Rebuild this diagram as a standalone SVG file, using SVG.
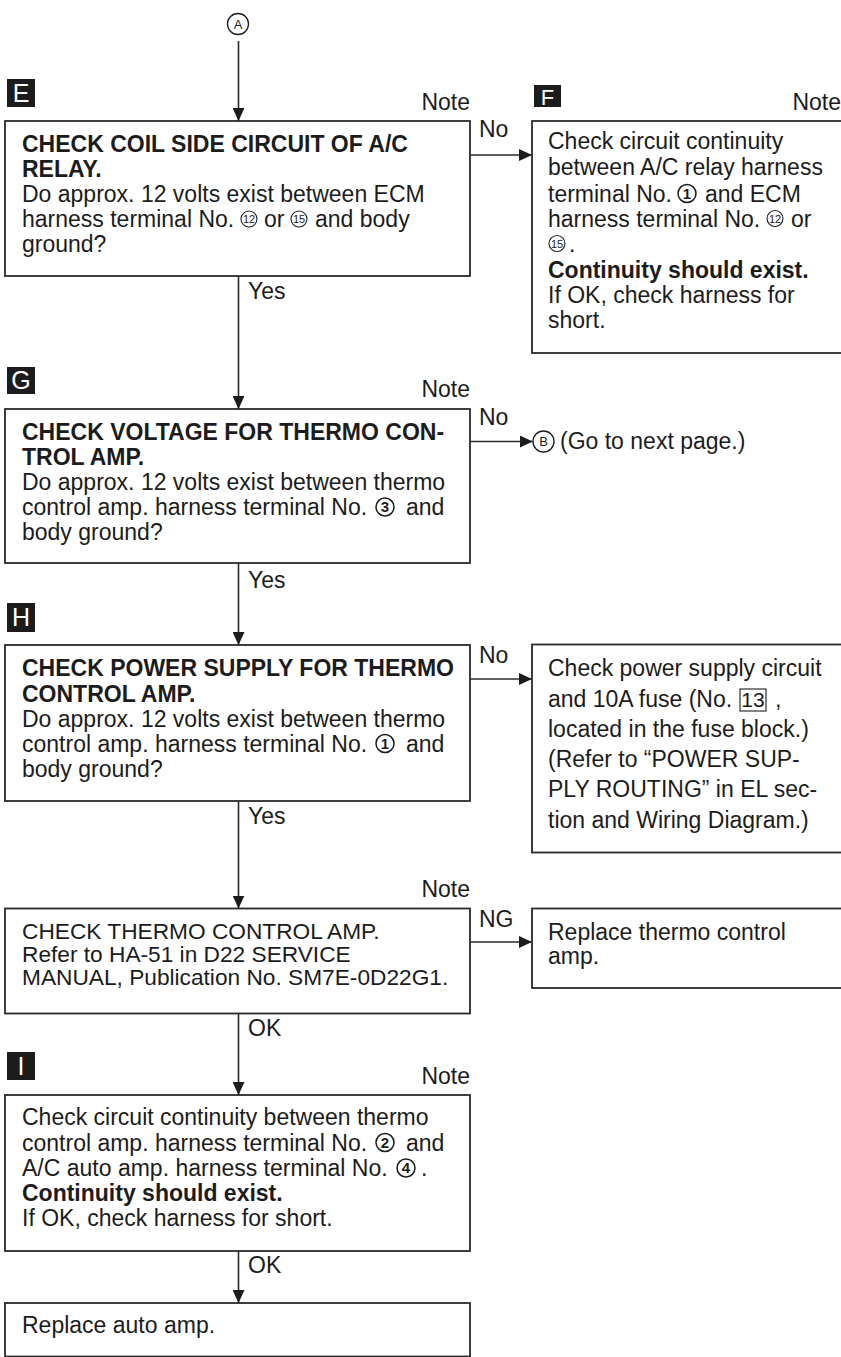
<svg xmlns="http://www.w3.org/2000/svg" width="841" height="1357" viewBox="0 0 841 1357">
<style>
.t{font-family:"Liberation Sans",Arial,sans-serif;font-size:23px;fill:#1c1c1c}
.s{font-size:22.7px}
.b{font-weight:bold}
.box{fill:#fff;stroke:#2a2a2a;stroke-width:1.8}
.ln{fill:none;stroke:#2a2a2a;stroke-width:1.6}
.lab{fill:#1c1c1c}
.labt{font-family:"Liberation Sans",Arial,sans-serif;font-size:25px;fill:#fff;text-anchor:middle}
.c1{fill:none;stroke:#1c1c1c;stroke-width:1.5}
.c2{fill:none;stroke:#1c1c1c;stroke-width:1.1}
.d1{font-family:"Liberation Sans",Arial,sans-serif;font-size:15px;font-weight:bold;fill:#1c1c1c;text-anchor:middle}
.d2{font-family:"Liberation Sans",Arial,sans-serif;font-size:11px;fill:#1c1c1c;text-anchor:middle}
.dl{font-family:"Liberation Sans",Arial,sans-serif;font-size:13px;fill:#1c1c1c;text-anchor:middle}
.end{text-anchor:end}
</style>
<defs>
<marker id="ah" markerUnits="userSpaceOnUse" markerWidth="14" markerHeight="12" refX="13" refY="6" orient="auto">
<path d="M0,0 L13,6 L0,12 Z" fill="#1c1c1c"/>
</marker>
</defs>

<g id="connectors">
<path class="ln" d="M238.5,41 V121" marker-end="url(#ah)"/>
<path class="ln" d="M238.5,276 V409" marker-end="url(#ah)"/>
<path class="ln" d="M238.5,563 V645" marker-end="url(#ah)"/>
<path class="ln" d="M238.5,801 V908.5" marker-end="url(#ah)"/>
<path class="ln" d="M238.5,1013.5 V1095" marker-end="url(#ah)"/>
<path class="ln" d="M238.5,1251 V1303" marker-end="url(#ah)"/>
<path class="ln" d="M470,155 H532" marker-end="url(#ah)"/>
<path class="ln" d="M470,441.5 H532.8" marker-end="url(#ah)"/>
<path class="ln" d="M470,679 H532" marker-end="url(#ah)"/>
<path class="ln" d="M470,942 H532" marker-end="url(#ah)"/>
<text class="t" x="248" y="299">Yes</text>
<text class="t" x="248" y="588">Yes</text>
<text class="t" x="248" y="824">Yes</text>
<text class="t" x="248" y="1036">OK</text>
<text class="t" x="248" y="1273">OK</text>
<text class="t" x="479" y="137">No</text>
<text class="t" x="479" y="425">No</text>
<text class="t" x="479" y="663">No</text>
<text class="t" x="479" y="927">NG</text>
</g>

<g id="connA">
<circle class="c1" cx="238" cy="24" r="10.5" style="stroke-width:1.3"/>
<text class="dl" x="238" y="28.7">A</text>
</g>

<g id="nodeE">
<rect class="lab" x="7" y="79" width="28" height="28"/>
<text class="labt" x="21" y="102">E</text>
<text class="t end" x="470" y="110">Note</text>
<rect class="box" x="5" y="121" width="465" height="155"/>
<text class="t b" x="22" y="152">CHECK COIL SIDE CIRCUIT OF A/C</text>
<text class="t b" x="22" y="177">RELAY.</text>
<text class="t" x="22" y="202">Do approx. 12 volts exist between ECM</text>
<text class="t" x="22" y="227">harness terminal No.</text>
<circle class="c2" cx="249" cy="219" r="8"/><text class="d2" x="249" y="223">12</text>
<text class="t" x="264" y="227">or</text>
<circle class="c2" cx="299" cy="219" r="8"/><text class="d2" x="299" y="223">15</text>
<text class="t" x="315" y="227">and body</text>
<text class="t" x="22" y="252">ground?</text>
</g>

<g id="nodeF">
<rect class="lab" x="534" y="85" width="27" height="22"/>
<text class="labt" x="547.5" y="104.5" style="font-size:22px">F</text>
<text class="t end" x="841" y="110">Note</text>
<rect class="box" x="532" y="121" width="320" height="232"/>
<text class="t" x="548" y="148.5">Check circuit continuity</text>
<text class="t" x="548" y="175">between A/C relay harness</text>
<text class="t" x="548" y="201.5">terminal No.</text>
<circle class="c1" cx="687" cy="193.5" r="9"/><text class="d1" x="687" y="198.8">1</text>
<text class="t" x="705" y="201.5">and ECM</text>
<text class="t" x="548" y="226.5">harness terminal No.</text>
<circle class="c2" cx="775" cy="218.5" r="8"/><text class="d2" x="775" y="222.5">12</text>
<text class="t" x="791" y="226.5">or</text>
<circle class="c2" cx="557" cy="243.5" r="8"/><text class="d2" x="557" y="247.5">15</text>
<text class="t" x="569" y="251.5">.</text>
<text class="t b" x="548" y="278">Continuity should exist.</text>
<text class="t" x="548" y="303">If OK, check harness for</text>
<text class="t" x="548" y="328">short.</text>
</g>

<g id="nodeG">
<rect class="lab" x="7" y="367" width="28" height="27"/>
<text class="labt" x="21" y="389">G</text>
<text class="t end" x="470" y="397">Note</text>
<rect class="box" x="5" y="409" width="465" height="154"/>
<text class="t b" x="22" y="439.5">CHECK VOLTAGE FOR THERMO CON-</text>
<text class="t b" x="22" y="464.5">TROL AMP.</text>
<text class="t" x="22" y="489.5">Do approx. 12 volts exist between thermo</text>
<text class="t" x="22" y="515">control amp. harness terminal No.</text>
<circle class="c1" cx="385" cy="507" r="9"/><text class="d1" x="385" y="512.3">3</text>
<text class="t" x="406" y="515">and</text>
<text class="t" x="22" y="540">body ground?</text>
</g>

<g id="connB">
<circle class="c1" cx="543.5" cy="441.5" r="10.5" style="stroke-width:1.3"/>
<text class="dl" x="543.5" y="446.2">B</text>
<text class="t" x="560" y="448.5">(Go to next page.)</text>
</g>

<g id="nodeH">
<rect class="lab" x="7" y="603" width="28" height="29"/>
<text class="labt" x="21" y="626">H</text>
<rect class="box" x="5" y="645" width="465" height="156"/>
<text class="t b" x="22" y="676">CHECK POWER SUPPLY FOR THERMO</text>
<text class="t b" x="22" y="701.5">CONTROL AMP.</text>
<text class="t" x="22" y="726.5">Do approx. 12 volts exist between thermo</text>
<text class="t" x="22" y="751.5">control amp. harness terminal No.</text>
<circle class="c1" cx="385" cy="743.5" r="9"/><text class="d1" x="385" y="748.8">1</text>
<text class="t" x="406" y="751.5">and</text>
<text class="t" x="22" y="776.5">body ground?</text>
</g>

<g id="nodeHNo">
<rect class="box" x="532" y="644.5" width="320" height="208"/>
<text class="t" x="548" y="676">Check power supply circuit</text>
<text class="t" x="548" y="706.5">and 10A fuse (No.</text>
<rect x="740" y="689" width="26" height="22" fill="none" stroke="#1c1c1c" stroke-width="1.1"/>
<text class="t" x="753" y="707" style="font-size:21px;text-anchor:middle">13</text>
<text class="t" x="775" y="706.5">,</text>
<text class="t" x="548" y="736.5">located in the fuse block.)</text>
<text class="t" x="548" y="766.5">(Refer to “POWER SUP-</text>
<text class="t" x="548" y="796.5">PLY ROUTING” in EL sec-</text>
<text class="t" x="548" y="828">tion and Wiring Diagram.)</text>
</g>

<g id="nodeAmp">
<text class="t end" x="470" y="897">Note</text>
<rect class="box" x="5" y="908.5" width="465" height="105"/>
<text class="t s" x="22" y="938.5">CHECK THERMO CONTROL AMP.</text>
<text class="t s" x="22" y="961.5">Refer to HA-51 in D22 SERVICE</text>
<text class="t s" x="22" y="984.5">MANUAL, Publication No. SM7E-0D22G1.</text>
</g>

<g id="nodeNG">
<rect class="box" x="532" y="908.5" width="320" height="79.5"/>
<text class="t" x="548" y="939.5">Replace thermo control</text>
<text class="t" x="548" y="964">amp.</text>
</g>

<g id="nodeI">
<rect class="lab" x="7" y="1052" width="28" height="28"/>
<text class="labt" x="21" y="1075">I</text>
<text class="t end" x="470" y="1083.5">Note</text>
<rect class="box" x="5" y="1095" width="465" height="156"/>
<text class="t" x="22" y="1125">Check circuit continuity between thermo</text>
<text class="t" x="22" y="1150.5">control amp. harness terminal No.</text>
<circle class="c1" cx="385" cy="1142.5" r="9"/><text class="d1" x="385" y="1147.8">2</text>
<text class="t" x="406" y="1150.5">and</text>
<text class="t" x="22" y="1176">A/C auto amp. harness terminal No.</text>
<circle class="c1" cx="406" cy="1168" r="9"/><text class="d1" x="406" y="1173.3">4</text>
<text class="t" x="421" y="1176">.</text>
<text class="t b" x="22" y="1200.5">Continuity should exist.</text>
<text class="t" x="22" y="1226">If OK, check harness for short.</text>
</g>

<g id="nodeEnd">
<rect class="box" x="5" y="1303" width="465" height="53.5"/>
<text class="t" x="22" y="1333">Replace auto amp.</text>
</g>
</svg>
